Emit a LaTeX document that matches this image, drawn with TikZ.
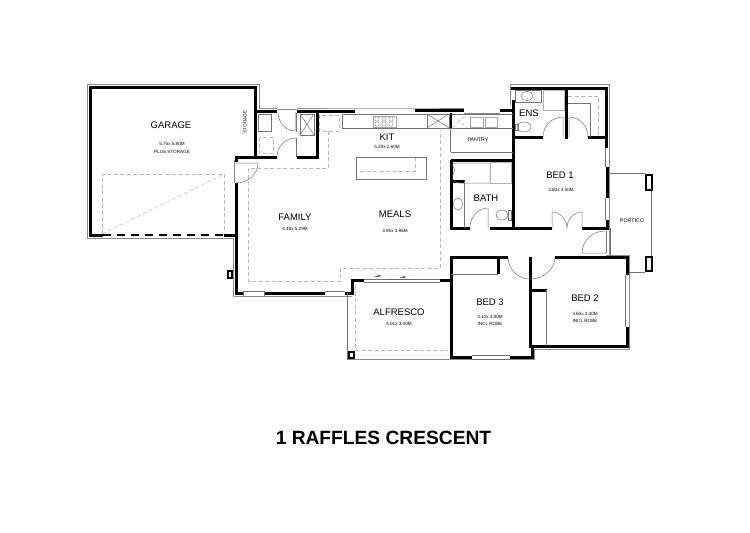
\documentclass[tikz,border=0pt]{standalone}
\usepackage{fontspec}
\setmainfont{Liberation Sans}
\tikzset{
wall/.style={line width=3pt, black},
outline/.style={line width=0.8pt, black!45},
fine/.style={line width=0.5pt, black!55},
fixture/.style={line width=0.6pt, black!35},
shower/.style={line width=1pt, black!30},
dashline/.style={line width=0.5pt, black!28, dash pattern=on 4pt off 2.5pt},
roomname/.style={inner sep=0pt, font=\fontsize{9.5}{11}\selectfont},
smallname/.style={inner sep=0pt, font=\fontsize{5.3}{7}\selectfont},
roomsize/.style={inner sep=0pt, align=center, font=\fontsize{4.6}{7.2}\selectfont},
post/.style={line width=2pt, black, fill=white}
}
\begin{document}
\begin{tikzpicture}[x=1pt, y=-1pt]
\useasboundingbox (0,0) rectangle (750,533);
\draw[outline] (103,238) -- (87,238) -- (87,84) -- (259,84) -- (259,108) -- (277,108);
\draw[outline] (277,109) -- (297,109);
\draw[outline] (297,108) -- (355,108) -- (415,108) -- (464,108);
\draw[outline] (103,238) -- (233,238) -- (233,296) -- (352,296);
\draw[outline] (464,113) -- (500,113);
\draw[outline] (510,105) -- (510,84) -- (609,84) -- (609,255);
\draw[outline] (606,255) -- (629,255) -- (629,349) -- (534,349) -- (534,359) -- (347,359);
\draw[outline] (234,160) -- (234,183);
\draw[wall] (255,157) -- (255,87) -- (90,87) -- (90,235) -- (103,235);
\draw[wall] (236,162) -- (236,157) -- (277,157);
\draw[wall] (255,111) -- (277,111);
\draw[wall] (297,111) -- (355,111);
\draw[wall] (415,110) -- (464,110);
\draw[wall] (500,110) -- (513,110);
\draw[wall] (297,157) -- (317,157) -- (317,112);
\draw[wall] (224,235) -- (236,235);
\draw[wall] (236,183) -- (236,293) -- (243,293);
\draw[wall] (264,293) -- (325,293);
\draw[wall] (345,293) -- (352,293) -- (352,280) -- (364,280);
\draw[wall] (440,280) -- (451,280);
\draw[wall, dash pattern=on 8pt off 6pt, line width=1.6pt] (103,235) -- (224,235);
\draw[wall] (513,100) -- (513,228);
\draw[wall] (511,88) -- (606,88) -- (606,148);
\draw[wall] (513,137) -- (543,137);
\draw[wall] (588,137) -- (606,137);
\draw[wall] (566,88) -- (566,139);
\draw[wall] (451,160) -- (513,160);
\draw[wall] (451,160) -- (451,228) -- (470,228);
\draw[wall] (451,181) -- (465,181);
\draw[wall] (490,228) -- (552,228);
\draw[wall] (582,228) -- (607,228) -- (607,220);
\draw[wall] (607,167) -- (607,198);
\draw[wall] (508,257) -- (451,257) -- (451,357) -- (472,357);
\draw[wall] (498,257) -- (498,274);
\draw[wall] (510,357) -- (532,357) -- (532,346);
\draw[wall] (530,257) -- (530,346) -- (627,346) -- (627,327);
\draw[wall] (627,275) -- (627,257) -- (555,257);
\draw[wall] (530,290) -- (547,290);
\draw[fine] (451,274) -- (498,274);
\draw[fine] (451,152) -- (513,152);
\draw[fine] (450,129) -- (450,152);
\draw[fine] (546,290) -- (546,346);
\draw[fine] (464,181) -- (464,228);
\draw[fine] (243,296) -- (243,291);
\draw[fine] (264,296) -- (264,291);
\draw[fine] (243,291) -- (264,291);
\draw[fine] (325,291) -- (345,291);
\draw[fine] (364,279) -- (440,279);
\draw[fine] (364,282) -- (440,282);
\draw[line width=0.9pt, black!60] (388,279) -- (415,279);
\draw[fine] (472,355) -- (510,355);
\draw[fine] (472,359) -- (510,359);
\draw[fine] (605,148) -- (605,167);
\draw[fine] (605,198) -- (605,220);
\draw[fine] (625,275) -- (625,327);
\draw[fine] (347,293) -- (347,359);
\draw[fine] (610,173) -- (645,173);
\draw[fine] (651,191) -- (651,256);
\draw[fine] (629,272) -- (645,272);
\draw[fine] (610,228) -- (610,255);
\draw[fine] (236,163) -- (258,163) arc (0:90:22 and 20);
\draw[fine] (278,112) arc (180:90:17 and 19) -- (295,112);
\draw[fine] (296,113) -- (296,132);
\draw[fine] (296,138) arc (-90:-180:19);
\draw[fine] (296,138) -- (296,157);
\draw[fine] (470,228) arc (180:270:18 and 20) -- (488,228);
\draw[fine] (543,137) arc (180:270:20) -- (563,137);
\draw[fine] (588,137) arc (0:-90:19 and 20) -- (569,137);
\draw[fine] (552,228) -- (552,212) arc (-90:0:15 and 16);
\draw[fine] (582,228) -- (582,212) arc (-90:-180:15 and 16);
\draw[fine] (508,257) arc (180:90:22);
\draw[fine] (555,257) arc (0:90:25 and 22);
\draw[fine] (605,231) arc (-90:-180:23 and 22) -- (606,253);
\draw[fine] (606,231) -- (606,253);
\draw[dashline] (102,234) -- (102,174) -- (224,174) -- (224,234);
\draw[dashline] (102,234) -- (224,174);
\draw[dashline] (328,131) -- (328,168) -- (248,168) -- (248,281) -- (340,281) -- (340,268) -- (440,268) -- (440,130);
\draw[dashline] (355,285) -- (355,350) -- (448,350);
\draw[dashline] (319,115) rectangle (339,131);
\draw[dashline] (259,137) rectangle (273,153);
\draw[dashline] (360,171) -- (415,171) -- (415,158);
\draw[dashline] (568,96) -- (598,96) -- (598,137);
\draw[dashline] (452,114) -- (467,128);
\draw[dashline] (452,128) -- (467,114);
\draw[fine] (258,114) rectangle (271,131);
\draw[fine] (300,114) rectangle (314,135);
\draw[fine] (300,114) -- (314,135);
\draw[fine] (300,135) -- (314,114);
\draw[fine] (342,114) -- (342,128) -- (513,128);
\draw[fine] (342,114) -- (513,114);
\draw[fine] (427,114) rectangle (449,128);
\draw[fine] (427,114) -- (449,128);
\draw[fine] (427,128) -- (449,114);
\draw[wall, line width=1.6pt] (451,113) -- (451,128);
\draw[fixture] (373,116) rectangle (396,127);
\foreach \px/\py in {377/119, 377/124, 384/119, 384/124, 391/119, 391/124} {
\draw[fixture] (\px,\py) circle (2.2pt);
}
\draw[fixture] (470,117) rectangle (483,127);
\draw[fixture] (485,117) rectangle (497,127);
\draw[fine] (356,157) rectangle (426,179);
\draw[fine] (515,90) rectangle (541,102);
\draw[fine] (527,96) ellipse (6pt and 4.5pt);
\draw[shower] (543,90) rectangle (564,110);
\draw[fine] (568,103) -- (590,103) -- (590,137);
\draw[fine] (524,127) ellipse (7pt and 5pt);
\draw[fine] (515,124) rectangle (518,130);
\draw[fine] (455,170) .. controls (450,163) and (453,163) .. (460,163) -- (490,163) -- (490,183) -- (460,183) .. controls (453,183) and (450,178) .. (455,170);
\draw[shower] (490,162) rectangle (511,183);
\draw[fine] (458,204) ellipse (4.5pt and 6pt);
\draw[fine] (502,215) ellipse (6pt and 5pt);
\draw[fine] (508,210) rectangle (511,220);
\draw[fine, -latex] (375,276) -- (382,276);
\draw[fine, -latex] (400,277) -- (407,277);
\draw[post] (645.5,175) rectangle (651.5,190);
\draw[post] (645.5,257) rectangle (651.5,271);
\draw[post] (228,270.5) rectangle (232,277.5);
\draw[post] (348.5,352) rectangle (354,357.5);
\node[roomname] (L_garage) at (171,125) {GARAGE};
\node[roomsize] (S_garage) at (172,148) {5.75x 5.80M\\PLUS STORAGE};
\node[roomsize, rotate=90] (L_storage) at (245,122) {STORAGE};
\node[roomname] (L_family) at (295,217) {FAMILY};
\node[roomsize] (S_family) at (295,229) {4.48x 5.29M};
\node[roomname] (L_kit) at (387,137) {KIT};
\node[roomsize] (S_kit) at (387,147) {5.29x 2.60M};
\node[roomname] (L_meals) at (395,214) {MEALS};
\node[roomsize] (S_meals) at (395,231) {3.95x 3.96M};
\node[smallname] (L_pantry) at (478,140) {PANTRY};
\node[roomname] (L_ens) at (529,113) {ENS};
\node[roomname] (L_bed1) at (560,175) {BED 1};
\node[roomsize] (S_bed1) at (561,190) {3.60x 3.50M};
\node[roomname] (L_bath) at (486,198) {BATH};
\node[smallname] (L_portico) at (632,221) {PORTICO};
\node[roomname] (L_alfresco) at (399,312) {ALFRESCO};
\node[roomsize] (S_alfresco) at (399,324) {4.01x 3.00M};
\node[roomname] (L_bed3) at (490,302) {BED 3};
\node[roomsize] (S_bed3) at (490,320.5) {3.10x 3.80M\\INCL ROBE};
\node[roomname] (L_bed2) at (585,298) {BED 2};
\node[roomsize] (S_bed2) at (585,317.5) {3.65x 3.40M\\INCL ROBE};
\node[inner sep=0pt, font=\fontsize{19.2}{22}\selectfont\bfseries] (L_title) at (383.5,438) {1 RAFFLES CRESCENT};
\end{tikzpicture}
\end{document}
